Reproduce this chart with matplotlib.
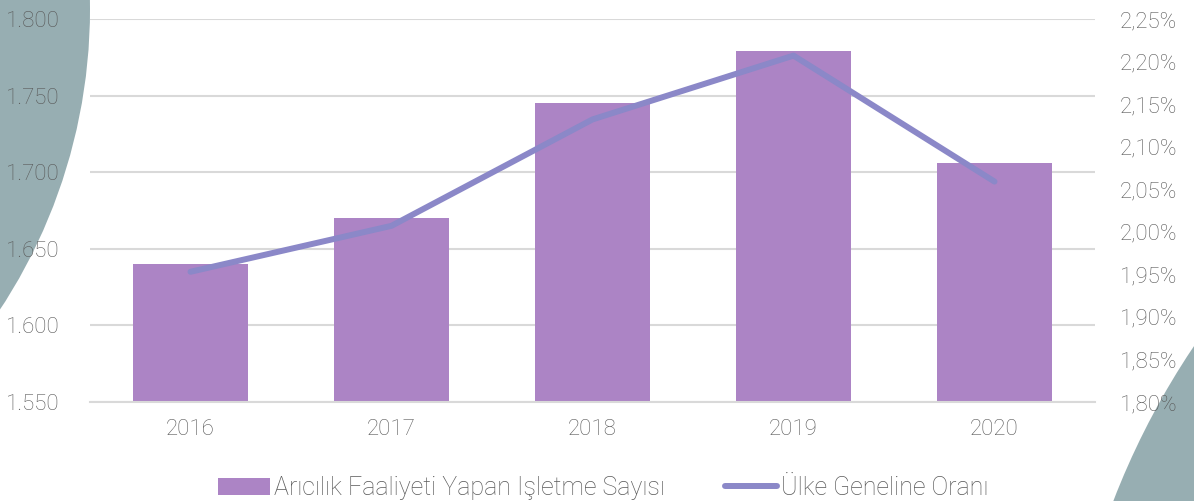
import numpy as np
import matplotlib.pyplot as plt
from matplotlib.patches import Circle

years = ["2016", "2017", "2018", "2019", "2020"]
isletme = [1640, 1670, 1745, 1779, 1706]
oran = [1.953, 2.007, 2.132, 2.207, 2.059]

left_ticks = [1550, 1600, 1650, 1700, 1750, 1800]
left_labels = ["1.550", "1.600", "1.650", "1.700", "1.750", "1.800"]
right_ticks = [1.80, 1.85, 1.90, 1.95, 2.00, 2.05, 2.10, 2.15, 2.20, 2.25]
right_labels = ["1,80%", "1,85%", "1,90%", "1,95%", "2,00%", "2,05%", "2,10%", "2,15%", "2,20%", "2,25%"]

bar_color = "#AC84C5"
line_color = "#8B88C8"
text_color = "#595959"

plt.rcParams['font.family'] = ['Roboto', 'DejaVu Sans']
plt.rcParams['font.weight'] = 'light'

fig = plt.figure(figsize=(11.94, 5.01), dpi=100)

# decorative background shapes (pixel coords)
bg = fig.add_axes([0, 0, 1, 1], zorder=0)
bg.set_xlim(0, 1194)
bg.set_ylim(501, 0)
bg.axis("off")
bg.add_patch(Circle((-457, 9), 547, color="#97AEB2", lw=0))
bg.add_patch(Circle((1842, 782), 781, color="#97AEB2", lw=0))

ax = fig.add_axes([90 / 1194, 1 - 402 / 501, (1095 - 90) / 1194, (402 - 19) / 501], zorder=1)
ax.patch.set_alpha(0)
x = np.arange(len(years))
ax.bar(x, isletme, width=0.57, color=bar_color, zorder=2,
       label="Arıcılık Faaliyeti Yapan Işletme Sayısı")
ax.set_ylim(1550, 1800)
ax.set_xlim(-0.5, 4.5)
ax.set_yticks(left_ticks)
ax.set_yticklabels(left_labels)
ax.set_xticks(x)
ax.set_xticklabels(years)
ax.yaxis.grid(True, color="#D9D9D9", lw=1.5, zorder=0)
ax.set_axisbelow(True)
for s in ax.spines.values():
    s.set_visible(False)
ax.spines["bottom"].set_visible(True)
ax.spines["bottom"].set_color("#D9D9D9")
ax.spines["bottom"].set_linewidth(1.5)
ax.tick_params(length=0, labelsize=16, labelcolor=text_color)
ax.tick_params(axis="y", pad=22)
ax.tick_params(axis="x", pad=12)

ax2 = ax.twinx()
ax2.plot(x, oran, color=line_color, lw=4.3, solid_capstyle="round",
         solid_joinstyle="round", zorder=3, label="Ülke Geneline Oranı")
ax2.set_ylim(1.80, 2.25)
ax2.set_yticks(right_ticks)
ax2.set_yticklabels(right_labels)
for s in ax2.spines.values():
    s.set_visible(False)
ax2.tick_params(length=0, labelsize=16, labelcolor=text_color, pad=18)

h1, l1 = ax.get_legend_handles_labels()
h2, l2 = ax2.get_legend_handles_labels()
fig.legend(h1 + h2, l1 + l2, loc="center", bbox_to_anchor=(0.505, 1 - 488 / 501),
           ncol=2, frameon=False, fontsize=18, labelcolor=text_color,
           handlelength=2.1, handletextpad=0.15, columnspacing=2.4)

fig.savefig("out.png", dpi=100)
